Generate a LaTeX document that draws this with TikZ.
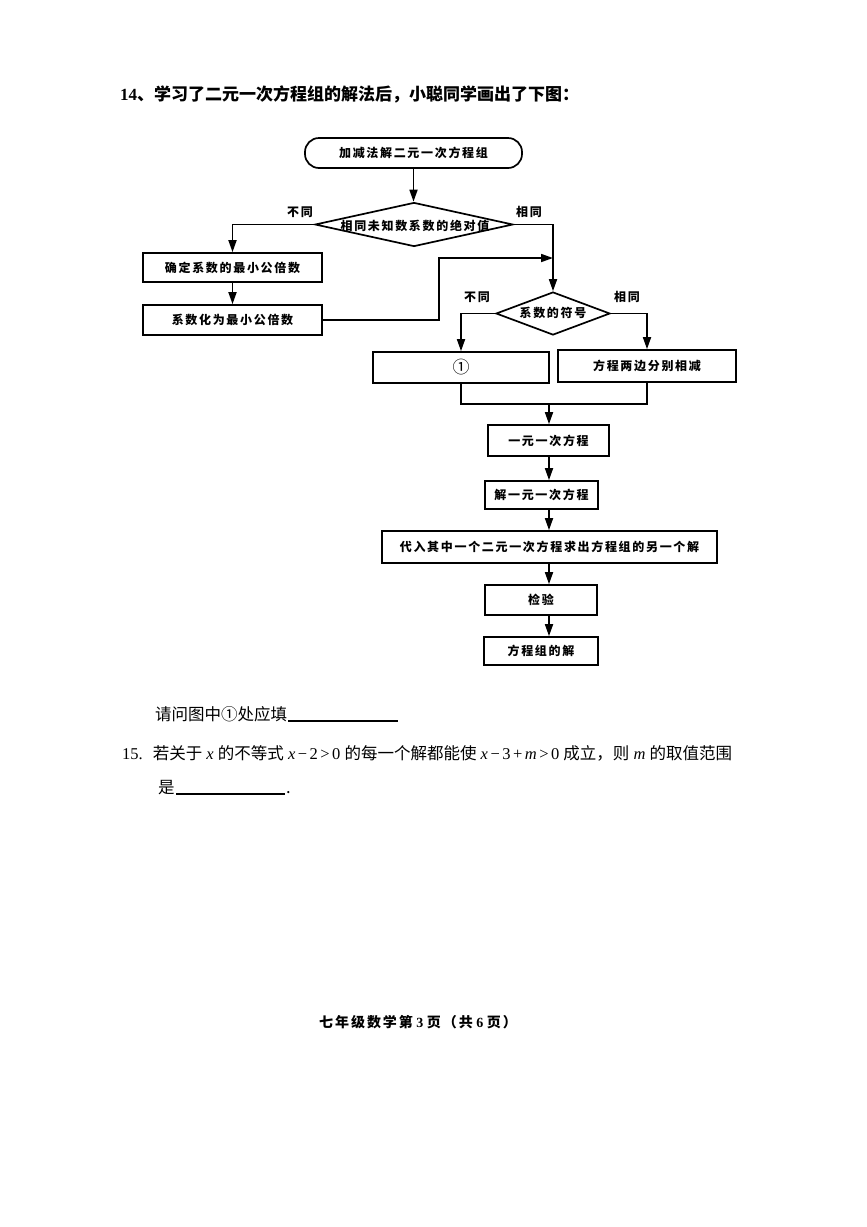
\documentclass[tikz,border=0pt]{standalone}
\usepackage{fontspec}
\setmainfont{Liberation Serif}
\newfontfamily\cjk{Noto Sans CJK SC}
\newfontfamily\fc[LetterSpace=14]{Noto Sans CJK SC}
\usetikzlibrary{arrows.meta,shapes.geometric,calc}
\newcommand{\vx}[1]{\textit{#1}}
\newcommand{\op}[1]{\hspace{2.5pt}#1\hspace{2.5pt}}
\begin{document}
\begin{tikzpicture}[x=1pt,y=-1pt,
  box/.style={draw, line width=1.7pt, inner sep=0pt, font=\fc\bfseries\fontsize{12}{14}\selectfont},
  dia/.style={diamond, draw, line width=1.7pt, inner sep=0pt},
  arr/.style={line width=1.7pt, -{Triangle[length=12pt,width=8pt]}},
  ln/.style={line width=1.7pt},
  lab/.style={font=\fc\bfseries\fontsize{12}{14}\selectfont, inner sep=0pt},
  q/.style={font=\cjk\fontsize{16.5}{20}\selectfont, inner sep=0pt, anchor=base west}]
\useasboundingbox (0,0) rectangle (867,1227);
\fill[white] (0,0) rectangle (867,1227);

% title
\node[q, font=\cjk\bfseries\fontsize{17}{20}\selectfont] (title) at (120,100) {{\rmfamily\bfseries 14}、学习了二元一次方程组的解法后，小聪同学画出了下图：};

% flowchart nodes
\node[box, rounded corners=14pt, minimum width=217pt, minimum height=30pt] (start) at (413.5,153) {加减法解二元一次方程组};
\node[dia, minimum width=198pt, minimum height=44pt] (d1) at (414,224.5) {};
\node[lab] (d1t) at (415,226) {相同未知数系数的绝对值};
\node[lab] (l1) at (300,212) {不同};
\node[lab] (l2) at (529,212) {相同};

\node[box, minimum width=179pt, minimum height=29pt] (b1) at (232.5,267.5) {确定系数的最小公倍数};
\node[box, minimum width=179pt, minimum height=30pt] (b2) at (232.5,320) {系数化为最小公倍数};

\node[dia, minimum width=114pt, minimum height=43pt] (d2) at (553,313.5) {};
\node[lab] (d2t) at (553,313) {系数的符号};
\node[lab] (l3) at (477,297) {不同};
\node[lab] (l4) at (627,297) {相同};

\node[box, minimum width=176pt, minimum height=31pt, font=\cjk\fontsize{17}{20}\selectfont] (b3) at (461,367.5) {①};
\node[box, minimum width=178pt, minimum height=32pt] (b4) at (647,366) {方程两边分别相减};
\node[box, minimum width=121pt, minimum height=31pt] (b5) at (548.5,440.5) {一元一次方程};
\node[box, minimum width=113pt, minimum height=28pt] (b6) at (541.5,495) {解一元一次方程};
\node[box, minimum width=335pt, minimum height=32pt] (b7) at (549.5,547) {代入其中一个二元一次方程求出方程组的另一个解};
\node[box, minimum width=112pt, minimum height=30pt] (b8) at (541,600) {检验};
\node[box, minimum width=114pt, minimum height=28pt] (b9) at (541,651) {方程组的解};

\coordinate (j1) at (553,258);
\coordinate (j2) at (549,404);

% connectors
\draw[arr] (start.south) -- (start.south |- d1.north);
\draw[arr] (d1.west) -| (b1.north);
\draw[arr] (b1.south) -- (b2.north);
\draw[arr] (d1.east) -| (d2.north);
\draw[arr] (b2.east) -- ++(116,0) |- (j1);
\draw[arr] (d2.west) -| (b3.north);
\draw[arr] (d2.east) -| (b4.north);
\draw[ln] (b3.south) |- (b4.south |- j2) -- (b4.south);
\draw[arr] (j2) -- (j2 |- b5.north);
\draw[arr] (b5.south -| j2) -- (b6.north -| j2);
\draw[arr] (b6.south -| j2) -- (b7.north -| j2);
\draw[arr] (b7.south -| j2) -- (b8.north -| j2);
\draw[arr] (b8.south -| j2) -- (b9.north -| j2);

% questions
\node[q] (q14) at (155,720) {请问图中①处应填};
\draw[line width=1.2pt] (288,721) -- (398,721);
\node[q] (q15) at (122,759) {{\rmfamily 15.}\hspace{10pt}若关于{\rmfamily\ \vx{x}\ }的不等式{\rmfamily\ \vx{x}\op{−}2\op{>}0\ }的每一个解都能使{\rmfamily\ \vx{x}\op{−}3\op{+}\vx{m}\op{>}0\ }成立，则{\rmfamily\ \vx{m}\ }的取值范围};
\node[q] (q15b) at (158,793) {是};
\draw[line width=1.2pt] (176,794) -- (285,794);
\node[q] (dot) at (286,793) {.};

% footer
\node[font=\fc\bfseries\fontsize{14}{18}\selectfont, inner sep=0pt] (foot) at (418,1022) {七年级数学第{\rmfamily\bfseries\ 3\ }页（共{\rmfamily\bfseries\ 6\ }页）};
\end{tikzpicture}
\end{document}
